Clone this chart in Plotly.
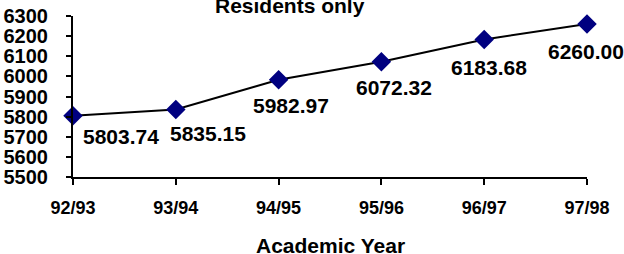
import plotly.graph_objects as go

years = ["92/93", "93/94", "94/95", "95/96", "96/97", "97/98"]
values = [5803.74, 5835.15, 5982.97, 6072.32, 6183.68, 6260.00]
title_text = "Residents only"
x_title = "Academic Year"

# label offsets in pixels (dx, dy) relative to each point
label_dx = [48, 32, 12, 13, 5, -1]
label_dy = [-21, -24, -26, -26, -28, -27]

FONT = "Liberation Sans, Arial, sans-serif"

fig = go.Figure()
fig.add_trace(go.Scatter(
    x=years, y=values, mode="lines+markers",
    line=dict(color="black", width=2),
    marker=dict(symbol="diamond", size=15, color="#000080", line=dict(width=0)),
    cliponaxis=False, hoverinfo="skip", showlegend=False,
))

for xv, yv, dx, dy in zip(years, values, label_dx, label_dy):
    fig.add_annotation(
        x=xv, y=yv, xref="x", yref="y", text=f"{yv:.2f}",
        showarrow=False, xshift=dx, yshift=dy,
        xanchor="center", yanchor="middle",
        font=dict(family=FONT, size=21, color="black", weight="bold"),
    )

fig.add_annotation(
    x=0.422, y=1.063, xref="paper", yref="paper", text=title_text,
    showarrow=False, xanchor="center", yanchor="middle",
    font=dict(family=FONT, size=21, color="black", weight="bold"),
)

fig.add_annotation(
    x=0.5, y=-0.425, xref="paper", yref="paper", text=x_title,
    showarrow=False, xanchor="center", yanchor="middle",
    font=dict(family=FONT, size=21, color="black", weight="bold"),
)

fig.update_layout(
    width=624, height=254,
    margin=dict(l=73, r=37, t=15.5, b=76.5),
    paper_bgcolor="white", plot_bgcolor="white",
    xaxis=dict(
        type="category", range=[0, 5], showgrid=False, zeroline=False,
        automargin=False,
        showline=True, linecolor="black", linewidth=2,
        ticks="outside", ticklen=6, tickwidth=2, tickcolor="black",
        ticklabelstandoff=7,
        tickfont=dict(family=FONT, size=18, color="black", weight="bold"),
    ),
    yaxis=dict(
        range=[5500, 6300], dtick=100, showgrid=False, zeroline=False,
        automargin=False,
        showline=True, linecolor="black", linewidth=2,
        ticks="outside", ticklen=5, tickwidth=2, tickcolor="black",
        ticklabelstandoff=14,
        tickfont=dict(family=FONT, size=20, color="black", weight="bold"),
    ),
)

fig.write_html("out.html", config={"displayModeBar": False},
               post_script="document.body.style.margin='0';")
